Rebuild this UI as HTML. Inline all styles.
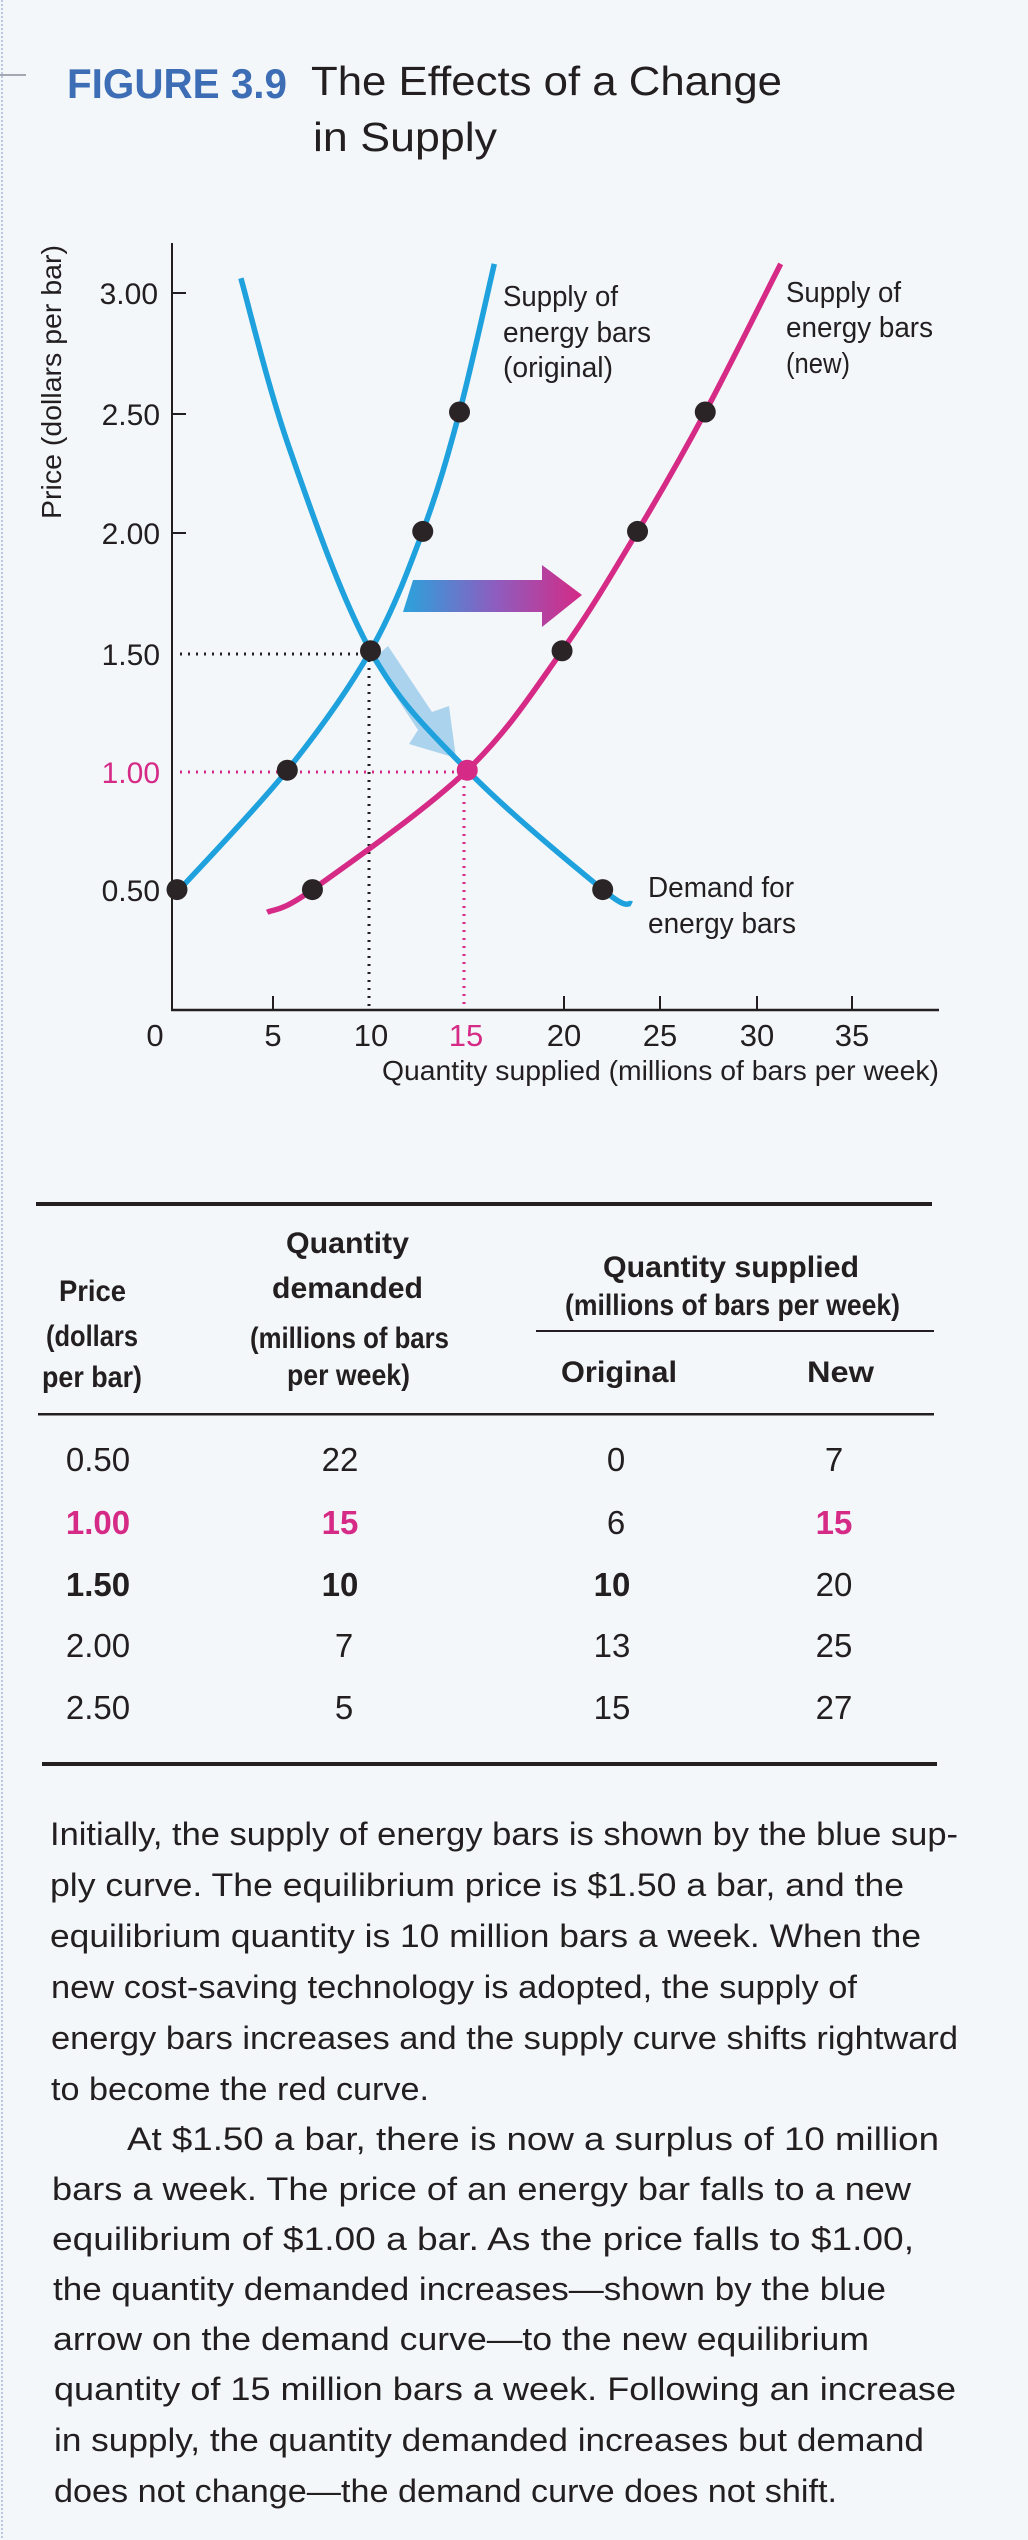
<!DOCTYPE html>
<html><head><meta charset="utf-8"><style>
html,body{margin:0;padding:0;background:#f3f7fa;}
svg{display:block;}
text{font-family:"Liberation Sans",sans-serif;fill:#231f20;}
.n{font-family:"Liberation Sans Narrow","Liberation Sans",sans-serif;font-weight:bold;}
</style></head><body>
<svg id="s" width="1028" height="2540" viewBox="0 0 1028 2540" xmlns="http://www.w3.org/2000/svg">
<defs>
<linearGradient id="g" x1="0" x2="1" y1="0" y2="0"><stop offset="0" stop-color="#2aa3dc"/><stop offset="0.5" stop-color="#8a5fc0"/><stop offset="1" stop-color="#d52a86"/></linearGradient>
</defs>
<rect width="1028" height="2540" fill="#f3f7fa"/>
<line x1="2" y1="0" x2="2" y2="2540" stroke="#aab8d8" stroke-width="1.5" stroke-dasharray="2,2"/>
<line x1="0" y1="75" x2="26" y2="75" stroke="#556" stroke-width="1"/>
<!-- title -->
<text x="67" y="98" font-size="42" font-weight="bold" fill="#3d6db5" style="fill:#3d6db5" textLength="220" lengthAdjust="spacingAndGlyphs">FIGURE 3.9</text>
<text x="311" y="95" font-size="41" textLength="471" lengthAdjust="spacingAndGlyphs">The Effects of a Change</text>
<text x="313" y="151" font-size="41" textLength="184" lengthAdjust="spacingAndGlyphs">in Supply</text>
<!-- axes -->
<line x1="172" y1="243" x2="172" y2="1011" stroke="#231f20" stroke-width="2"/>
<line x1="171" y1="1010" x2="939" y2="1010" stroke="#231f20" stroke-width="2.5"/>
<g stroke="#231f20" stroke-width="2">
<line x1="172" y1="293" x2="186" y2="293"/><line x1="172" y1="414" x2="186" y2="414"/><line x1="172" y1="533" x2="186" y2="533"/>
<line x1="273" y1="996" x2="273" y2="1010"/><line x1="564" y1="996" x2="564" y2="1010"/><line x1="660" y1="996" x2="660" y2="1010"/><line x1="757" y1="996" x2="757" y2="1010"/><line x1="852" y1="996" x2="852" y2="1010"/>
</g>
<g font-size="30" text-anchor="end">
<text x="158" y="304">3.00</text><text x="160" y="425">2.50</text><text x="160" y="544">2.00</text><text x="160" y="665">1.50</text>
<text x="160" y="783" style="fill:#d52a86">1.00</text><text x="160" y="901">0.50</text>
</g>
<g font-size="31" text-anchor="middle">
<text x="155" y="1046">0</text><text x="273" y="1046">5</text><text x="371" y="1046">10</text><text x="466" y="1046" style="fill:#d52a86">15</text><text x="564" y="1046">20</text><text x="660" y="1046">25</text><text x="757" y="1046">30</text><text x="852" y="1046">35</text>
</g>
<text x="382" y="1080" font-size="28" textLength="557" lengthAdjust="spacingAndGlyphs">Quantity supplied (millions of bars per week)</text>
<text transform="translate(61,382) rotate(-90)" font-size="28" text-anchor="middle" textLength="274" lengthAdjust="spacingAndGlyphs">Price (dollars per bar)</text>
<!-- dotted guides -->
<line x1="180" y1="654" x2="369" y2="654" stroke="#231f20" stroke-width="3" stroke-dasharray="2,6"/>
<line x1="369" y1="660" x2="369" y2="1006" stroke="#231f20" stroke-width="3" stroke-dasharray="2,6"/>
<line x1="180" y1="772" x2="462" y2="772" stroke="#d52a86" stroke-width="3" stroke-dasharray="2,6"/>
<line x1="464" y1="778" x2="464" y2="1006" stroke="#d52a86" stroke-width="3" stroke-dasharray="2,6"/>
<!-- arrows -->
<polygon points="413,580 542,580 542,565 582,595 542,627 542,612 403,612" fill="url(#g)"/>
<polygon points="372,660 388,646 432,712 449,706 456,758 409,744 418,730" fill="#9fcdea" opacity="0.85"/>
<!-- curves -->
<path id="d" fill="none" stroke="#1ea1dc" stroke-width="5.5" stroke-linecap="butt"/>
<path id="so" fill="none" stroke="#1ea1dc" stroke-width="5.5"/>
<path id="sn" fill="none" stroke="#d52a86" stroke-width="5.5"/>
<g id="dots"></g>
<!-- curve labels -->
<g font-size="29">
<text x="503" y="306" textLength="115" lengthAdjust="spacingAndGlyphs">Supply of</text>
<text x="503" y="342" textLength="148" lengthAdjust="spacingAndGlyphs">energy bars</text>
<text x="503" y="377" textLength="110" lengthAdjust="spacingAndGlyphs">(original)</text>
<text x="786" y="302" textLength="115" lengthAdjust="spacingAndGlyphs">Supply of</text>
<text x="786" y="337" textLength="147" lengthAdjust="spacingAndGlyphs">energy bars</text>
<text x="786" y="373" textLength="64" lengthAdjust="spacingAndGlyphs">(new)</text>
<text x="648" y="897" textLength="146" lengthAdjust="spacingAndGlyphs">Demand for</text>
<text x="648" y="933" textLength="148" lengthAdjust="spacingAndGlyphs">energy bars</text>
</g>
<!-- table -->
<rect x="36" y="1202" width="896" height="4" fill="#231f20"/>
<rect x="536" y="1330" width="398" height="2" fill="#231f20"/>
<rect x="38" y="1413" width="896" height="2.5" fill="#231f20"/>
<rect x="42" y="1762" width="895" height="4" fill="#231f20"/>
<g class="n" font-size="30">
<text class="n" x="59" y="1301" textLength="67" lengthAdjust="spacingAndGlyphs">Price</text>
<text class="n" x="46" y="1346" textLength="92" lengthAdjust="spacingAndGlyphs">(dollars</text>
<text class="n" x="42" y="1387" textLength="100" lengthAdjust="spacingAndGlyphs">per bar)</text>
<text class="n" x="286" y="1253" textLength="123" lengthAdjust="spacingAndGlyphs">Quantity</text>
<text class="n" x="272" y="1298" textLength="151" lengthAdjust="spacingAndGlyphs">demanded</text>
<text class="n" x="250" y="1348" textLength="199" lengthAdjust="spacingAndGlyphs">(millions of bars</text>
<text class="n" x="287" y="1385" textLength="123" lengthAdjust="spacingAndGlyphs">per week)</text>
<text class="n" x="603" y="1277" textLength="256" lengthAdjust="spacingAndGlyphs">Quantity supplied</text>
<text class="n" x="565" y="1315" textLength="335" lengthAdjust="spacingAndGlyphs">(millions of bars per week)</text>
<text class="n" x="561" y="1382" textLength="116" lengthAdjust="spacingAndGlyphs">Original</text>
<text class="n" x="807" y="1382" textLength="67" lengthAdjust="spacingAndGlyphs">New</text>
</g>
<g font-size="33" text-anchor="middle">
<text x="98" y="1471">0.50</text><text x="340" y="1471">22</text><text x="616" y="1471">0</text><text x="834" y="1471">7</text>
<text x="98" y="1534" font-weight="bold" style="fill:#d52a86">1.00</text><text x="340" y="1534" font-weight="bold" style="fill:#d52a86">15</text><text x="616" y="1534">6</text><text x="834" y="1534" font-weight="bold" style="fill:#d52a86">15</text>
<text x="98" y="1596" font-weight="bold">1.50</text><text x="340" y="1596" font-weight="bold">10</text><text x="612" y="1596" font-weight="bold">10</text><text x="834" y="1596">20</text>
<text x="98" y="1657">2.00</text><text x="344" y="1657">7</text><text x="612" y="1657">13</text><text x="834" y="1657">25</text>
<text x="98" y="1719">2.50</text><text x="344" y="1719">5</text><text x="612" y="1719">15</text><text x="834" y="1719">27</text>
</g>
<!-- paragraph -->
<g font-size="32">
<text x="50" y="1845" textLength="908" lengthAdjust="spacingAndGlyphs">Initially, the supply of energy bars is shown by the blue sup-</text>
<text x="50" y="1896" textLength="854" lengthAdjust="spacingAndGlyphs">ply curve. The equilibrium price is $1.50 a bar, and the</text>
<text x="50" y="1947" textLength="871" lengthAdjust="spacingAndGlyphs">equilibrium quantity is 10 million bars a week. When the</text>
<text x="51" y="1998" textLength="806" lengthAdjust="spacingAndGlyphs">new cost-saving technology is adopted, the supply of</text>
<text x="51" y="2049" textLength="907" lengthAdjust="spacingAndGlyphs">energy bars increases and the supply curve shifts rightward</text>
<text x="51" y="2100" textLength="378" lengthAdjust="spacingAndGlyphs">to become the red curve.</text>
<text x="127" y="2150" textLength="812" lengthAdjust="spacingAndGlyphs">At $1.50 a bar, there is now a surplus of 10 million</text>
<text x="52" y="2200" textLength="859" lengthAdjust="spacingAndGlyphs">bars a week. The price of an energy bar falls to a new</text>
<text x="52" y="2250" textLength="862" lengthAdjust="spacingAndGlyphs">equilibrium of $1.00 a bar. As the price falls to $1.00,</text>
<text x="53" y="2300" textLength="833" lengthAdjust="spacingAndGlyphs">the quantity demanded increases—shown by the blue</text>
<text x="53" y="2350" textLength="816" lengthAdjust="spacingAndGlyphs">arrow on the demand curve—to the new equilibrium</text>
<text x="54" y="2400" textLength="902" lengthAdjust="spacingAndGlyphs">quantity of 15 million bars a week. Following an increase</text>
<text x="54" y="2451" textLength="870" lengthAdjust="spacingAndGlyphs">in supply, the quantity demanded increases but demand</text>
<text x="54" y="2502" textLength="783" lengthAdjust="spacingAndGlyphs">does not change—the demand curve does not shift.</text>
</g>
</svg>
<script>
function X(q){return 177+19.35*q;}
function Y(p){return 1009-238.8*p;}
function cr(pts){
  var P=pts.map(function(a){return [X(a[0]),Y(a[1])];});
  var d="M"+P[0][0].toFixed(1)+","+P[0][1].toFixed(1);
  for(var i=0;i<P.length-1;i++){
    var p0=P[i-1]||P[i],p1=P[i],p2=P[i+1],p3=P[i+2]||P[i+1];
    var c1=[p1[0]+(p2[0]-p0[0])/6,p1[1]+(p2[1]-p0[1])/6];
    var c2=[p2[0]-(p3[0]-p1[0])/6,p2[1]-(p3[1]-p1[1])/6];
    d+=" C"+c1[0].toFixed(1)+","+c1[1].toFixed(1)+" "+c2[0].toFixed(1)+","+c2[1].toFixed(1)+" "+p2[0].toFixed(1)+","+p2[1].toFixed(1);
  }
  return d;
}
document.getElementById("so").setAttribute("d",cr([[-0.1,0.48],[5.7,1],[10,1.5],[12.7,2],[14.6,2.5],[16.4,3.12]]));
document.getElementById("sn").setAttribute("d",cr([[4.66,0.405],[7,0.5],[15,1],[19.9,1.5],[23.8,2],[27.3,2.5],[31.2,3.12]]));
document.getElementById("d").setAttribute("d",cr([[3.3,3.06],[5.8,2.35],[10,1.5],[15,1],[22,0.5],[23.5,0.44]]));
var dots=[[0,0.5],[5.7,1],[10,1.5],[12.7,2],[14.6,2.5],[7,0.5],[19.9,1.5],[23.8,2],[27.3,2.5],[22,0.5]];
var g=document.getElementById("dots"),ns="http://www.w3.org/2000/svg";
dots.forEach(function(a){var c=document.createElementNS(ns,"circle");c.setAttribute("cx",X(a[0]));c.setAttribute("cy",Y(a[1]));c.setAttribute("r",10.5);c.setAttribute("fill","#2b2426");g.appendChild(c);});
var c=document.createElementNS(ns,"circle");c.setAttribute("cx",X(15));c.setAttribute("cy",Y(1));c.setAttribute("r",10.5);c.setAttribute("fill","#d52a86");g.appendChild(c);
</script>
</body></html>
